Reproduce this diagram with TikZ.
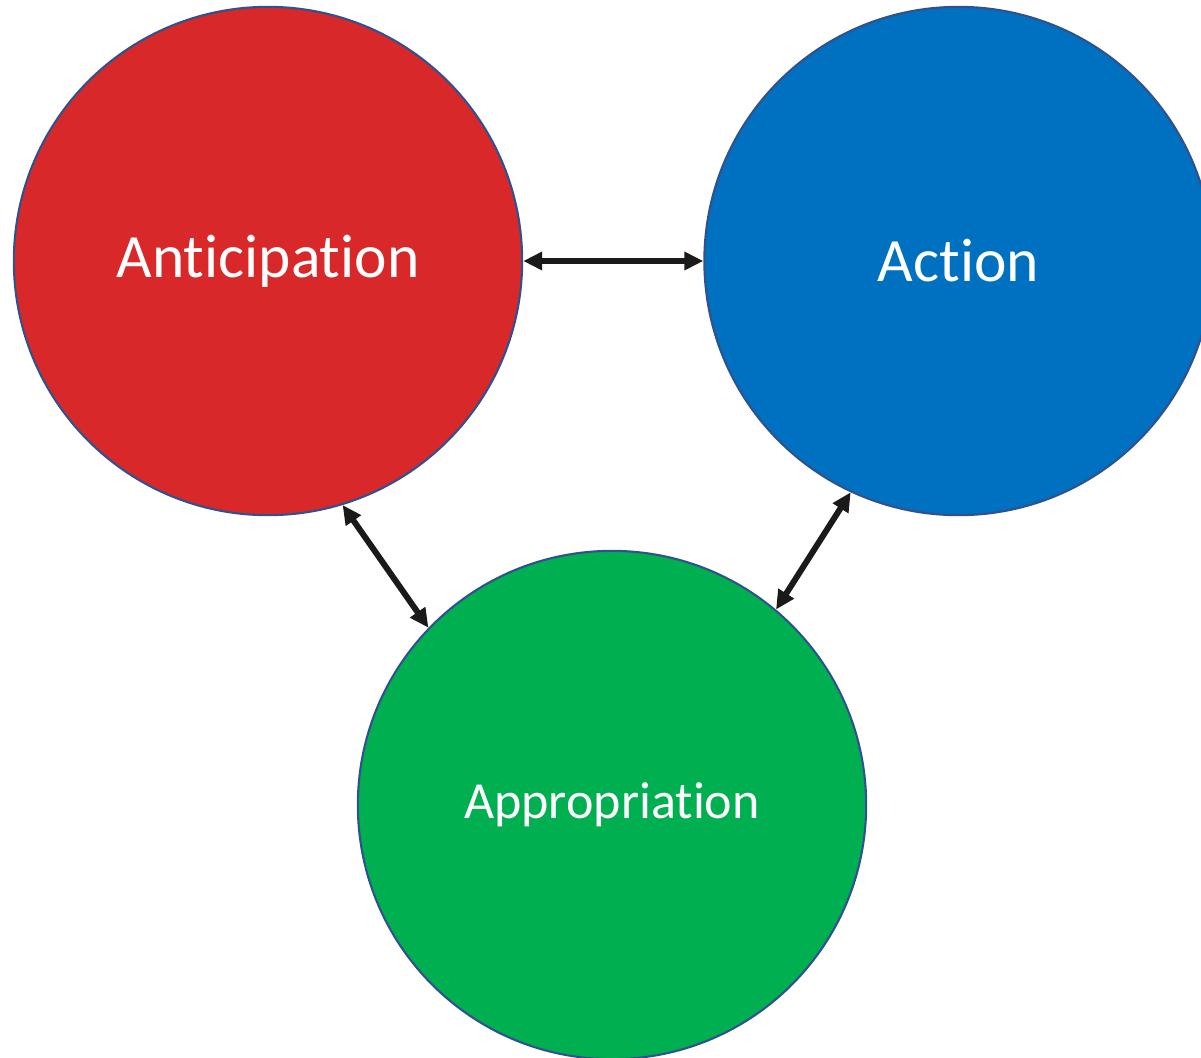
\documentclass[tikz,border=0pt]{standalone}
\usepackage{fontspec}
\setmainfont[Ligatures=NoCommon]{Carlito}
\usetikzlibrary{arrows.meta}
\usetikzlibrary{positioning}
\definecolor{anticipationRed}{RGB}{217,40,41}
\definecolor{actionBlue}{RGB}{0,112,192}
\definecolor{appropriationGreen}{RGB}{0,176,80}
\definecolor{phaseEdge}{RGB}{47,82,143}
\definecolor{linkBlack}{RGB}{26,26,26}
\newcommand{\edgeColor}{phaseEdge}
\newcommand{\linkColor}{linkBlack}
\newcommand{\cSize}{5.08cm}
\newcommand{\tipSpec}{Triangle[length=5.4pt, width=5pt]}
\tikzset{phase/.style = {circle, draw=\edgeColor, line width=0.6pt, minimum size=\cSize, inner sep=0pt, text=white}}
\tikzset{bigLabel/.style = {font=\fontsize{17.5}{21}\selectfont}}
\tikzset{smallLabel/.style = {font=\fontsize{14.8}{18}\selectfont}}
\tikzset{link/.style = {\linkColor, line width=1.7pt, {\tipSpec}-{\tipSpec}}}

\begin{document}
\begin{tikzpicture}[x=0.01cm, y=-0.01cm]
    \useasboundingbox (0,0) rectangle (1201,1057);

    \node[phase, bigLabel, fill=anticipationRed] (ant) at (268,261) {Anticipation};
    \node[phase, bigLabel, fill=actionBlue, right=1.8cm of ant] (act) {Action};
    \node[phase, smallLabel, fill=appropriationGreen] (app) at (612,805) {Appropriation};

    % links between the phases
    \draw[link] (ant.east) -- (act.west);
    \draw[link] (ant.-73) -- (app.136.7);
    \draw[link] (act.-115.3) -- (app.50.9);
\end{tikzpicture}
\end{document}
